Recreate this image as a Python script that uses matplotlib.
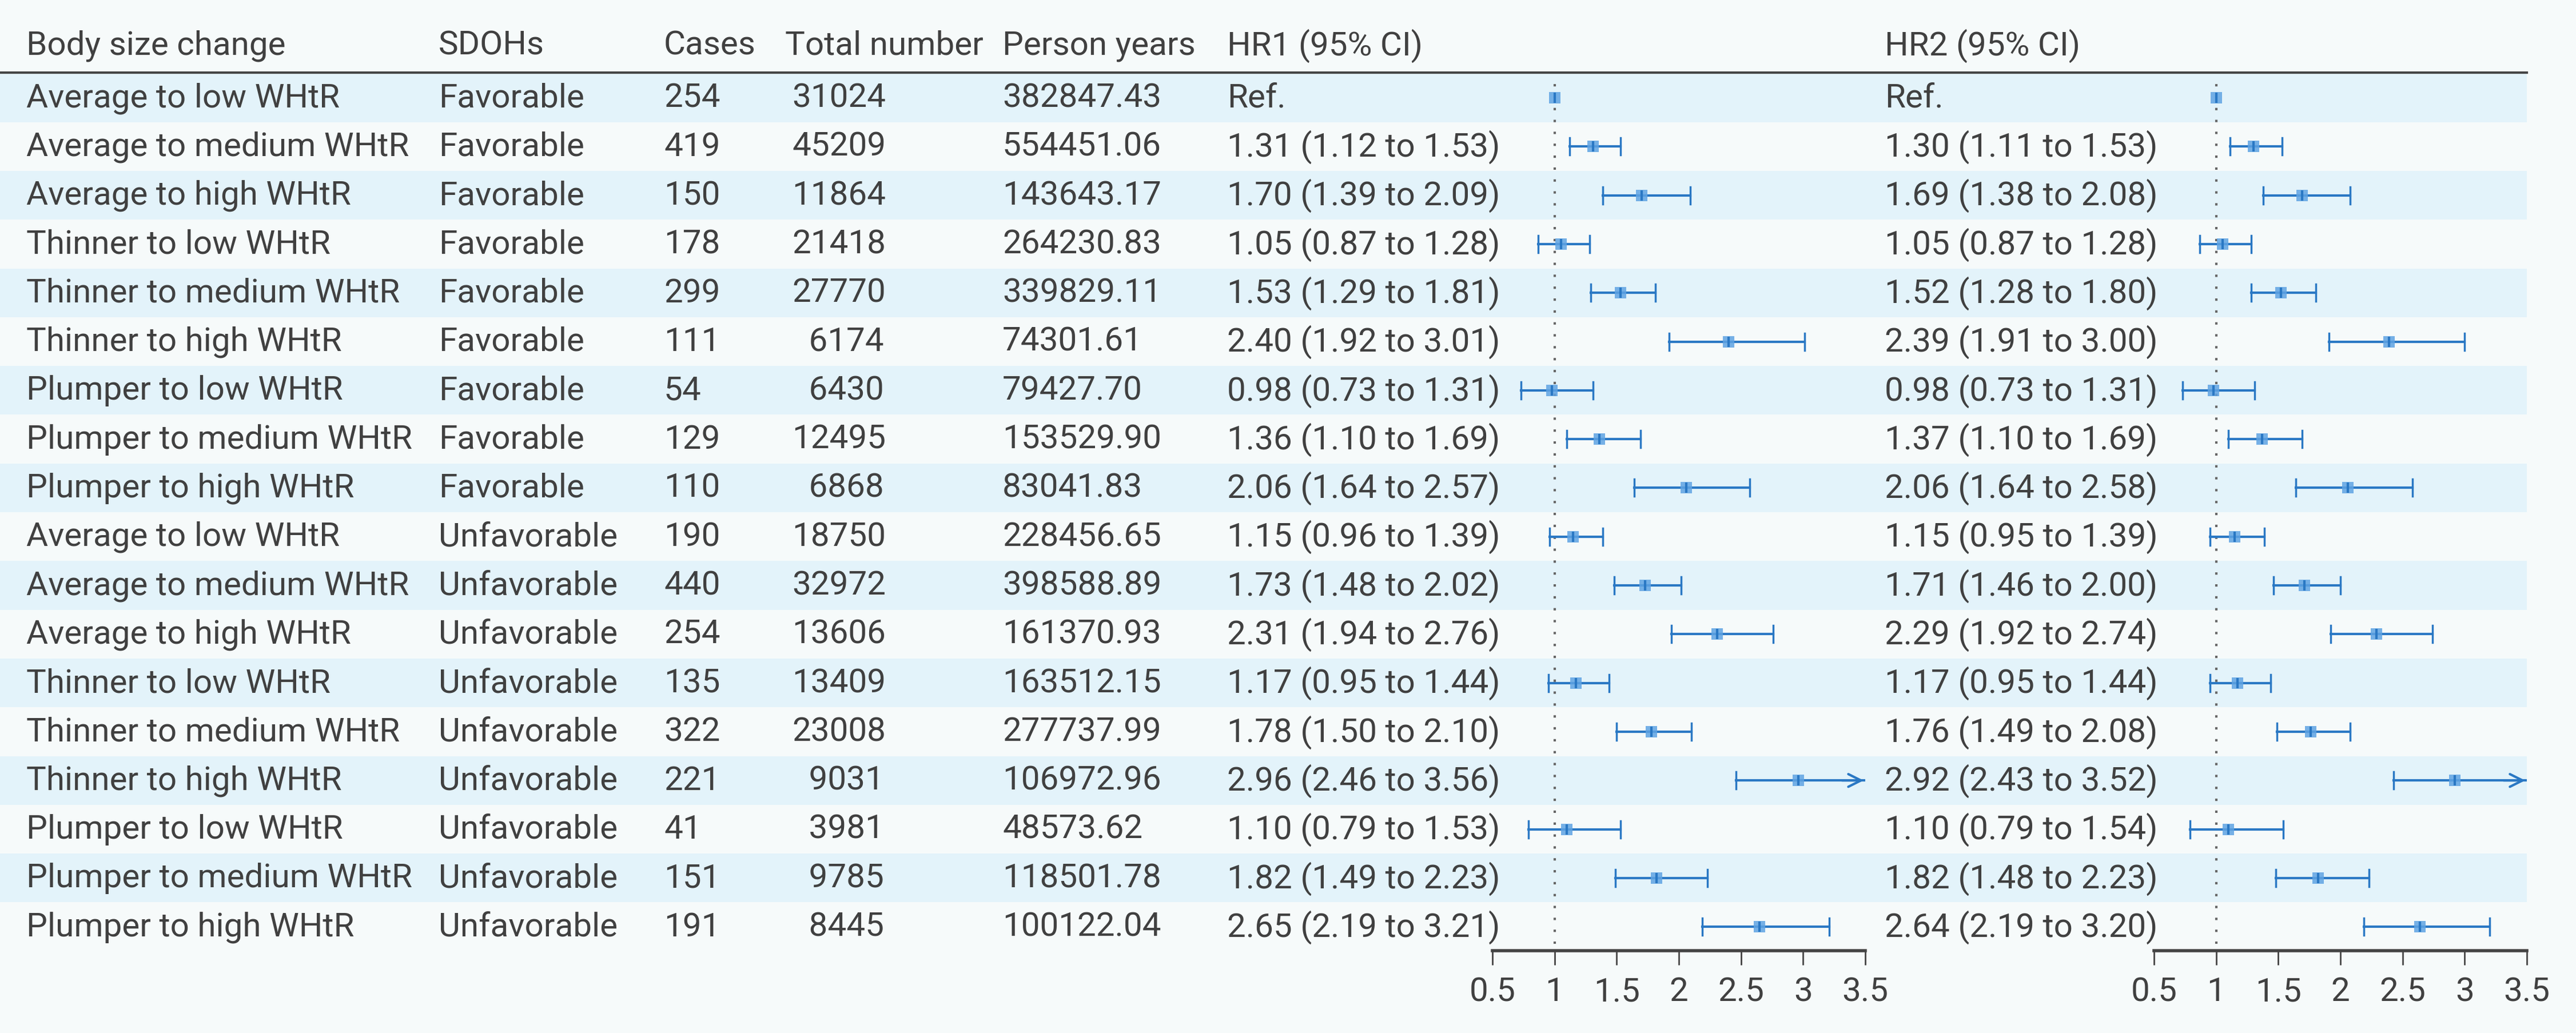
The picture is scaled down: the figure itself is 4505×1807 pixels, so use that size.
import numpy as np
import matplotlib
matplotlib.use("Agg")
import matplotlib.pyplot as plt
from matplotlib.patches import Rectangle

plt.rcParams['font.family'] = ['Roboto', 'DejaVu Sans']

groups = ["Average to low WHtR", "Average to medium WHtR", "Average to high WHtR",
          "Thinner to low WHtR", "Thinner to medium WHtR", "Thinner to high WHtR",
          "Plumper to low WHtR", "Plumper to medium WHtR", "Plumper to high WHtR"] * 2
sdoh = ["Favorable"] * 9 + ["Unfavorable"] * 9
cases = [254, 419, 150, 178, 299, 111, 54, 129, 110,
         190, 440, 254, 135, 322, 221, 41, 151, 191]
total = [31024, 45209, 11864, 21418, 27770, 6174, 6430, 12495, 6868,
         18750, 32972, 13606, 13409, 23008, 9031, 3981, 9785, 8445]
pyears = ["382847.43", "554451.06", "143643.17", "264230.83", "339829.11", "74301.61",
          "79427.70", "153529.90", "83041.83", "228456.65", "398588.89", "161370.93",
          "163512.15", "277737.99", "106972.96", "48573.62", "118501.78", "100122.04"]
hr1 = [1.00, 1.31, 1.70, 1.05, 1.53, 2.40, 0.98, 1.36, 2.06,
       1.15, 1.73, 2.31, 1.17, 1.78, 2.96, 1.10, 1.82, 2.65]
lo1 = [np.nan, 1.12, 1.39, 0.87, 1.29, 1.92, 0.73, 1.10, 1.64,
       0.96, 1.48, 1.94, 0.95, 1.50, 2.46, 0.79, 1.49, 2.19]
hi1 = [np.nan, 1.53, 2.09, 1.28, 1.81, 3.01, 1.31, 1.69, 2.57,
       1.39, 2.02, 2.76, 1.44, 2.10, 3.56, 1.53, 2.23, 3.21]
hr2 = [1.00, 1.30, 1.69, 1.05, 1.52, 2.39, 0.98, 1.37, 2.06,
       1.15, 1.71, 2.29, 1.17, 1.76, 2.92, 1.10, 1.82, 2.64]
lo2 = [np.nan, 1.11, 1.38, 0.87, 1.28, 1.91, 0.73, 1.10, 1.64,
       0.95, 1.46, 1.92, 0.95, 1.49, 2.43, 0.79, 1.48, 2.19]
hi2 = [np.nan, 1.53, 2.08, 1.28, 1.80, 3.00, 1.31, 1.69, 2.58,
       1.39, 2.00, 2.74, 1.44, 2.08, 3.52, 1.54, 2.23, 3.20]
headers = ["Body size change", "SDOHs", "Cases", "Total number", "Person years",
           "HR1 (95% CI)", "HR2 (95% CI)"]
xticks = [0.5, 1, 1.5, 2, 2.5, 3, 3.5]

W, H = 4505, 1808
BG = "#f6fafa"
STRIPE = "#e3f3fa"
TXT = "#404040"
DARK = "#2a78c4"
LIGHT = "#5fa3e3"
FS = 42

row0, rowh = 172, 85.3
n = len(groups)
ys = row0 + rowh * np.arange(n)

fig = plt.figure(figsize=(W / 100, H / 100), dpi=100, facecolor=BG)
ax = fig.add_axes([0, 0, 1, 1])
ax.set_xlim(0, W)
ax.set_ylim(H, 0)
ax.axis("off")

for i, y in enumerate(ys):
    if i % 2 == 0:
        ax.add_patch(Rectangle((0, y - rowh / 2), 4419, rowh, color=STRIPE, zorder=0, lw=0))
ax.plot([0, 4419], [128, 128], color="#444444", lw=3)

hx = [46, 767, 1161, 1373, 1753, 2146, 3296]
for x, h in zip(hx, headers):
    ax.text(x, 80, h, fontsize=FS, color=TXT, va="center", ha="left")

def ci_text(h, l, u):
    return "Ref." if np.isnan(l) else f"{h:.2f} ({l:.2f} to {u:.2f})"

for i, y in enumerate(ys):
    cols = [groups[i], sdoh[i], str(cases[i]), str(total[i]).rjust(5), pyears[i],
            ci_text(hr1[i], lo1[i], hi1[i]), ci_text(hr2[i], lo2[i], hi2[i])]
    xs = [46, 767, 1161, 1385 if total[i] >= 10000 else 1400, 1753, 2146, 3296]
    for x, c in zip(xs, cols):
        ax.text(x, y, c, fontsize=FS, color=TXT, va="center", ha="left")

def forest(x0, x1, hr, lo, hi):
    top, bot = 128, 1664
    fa = fig.add_axes([x0 / W, 1 - bot / H, (x1 - x0) / W, (bot - top) / H])
    fa.set_facecolor("none")
    fa.set_xlim(0.5, 3.5)
    fa.set_ylim(bot, top)
    for s in ["top", "right", "left"]:
        fa.spines[s].set_visible(False)
    fa.spines["bottom"].set_linewidth(4)
    fa.spines["bottom"].set_color("#444444")
    fa.set_yticks([])
    fa.set_xticks(xticks)
    fa.set_xticklabels([f"{t:g}" for t in xticks], fontsize=FS, color=TXT)
    fa.tick_params(axis="x", length=18, width=2, color="#444444", pad=14)
    fa.plot([1, 1], [top + 20, ys[-1] + 30], color="#666666", lw=3, ls=(0, (1, 4)), zorder=1)
    for i, y in enumerate(ys):
        if not np.isnan(lo[i]):
            right = min(hi[i], 3.5)
            fa.plot([lo[i], right], [y, y], color=DARK, lw=3, zorder=2)
            fa.plot([lo[i], lo[i]], [y - 15, y + 15], color=DARK, lw=2.5, zorder=2)
            if hi[i] > 3.5:
                fa.annotate("", xy=(3.5, y), xytext=(3.3, y),
                            arrowprops=dict(arrowstyle="->", color=DARK, lw=3,
                                            mutation_scale=40))
            else:
                fa.plot([hi[i], hi[i]], [y - 15, y + 15], color=DARK, lw=2.5, zorder=2)
        fa.plot(hr[i], y, marker="s", ms=14, color=LIGHT, alpha=0.85, mew=0, zorder=3)
        fa.plot(hr[i], y, marker="|", ms=13, color=DARK, mew=3, zorder=4)

forest(2610, 3262, hr1, lo1, hi1)
forest(3767, 4419, hr2, lo2, hi2)

fig.savefig("out.png", dpi=100, facecolor=BG)
